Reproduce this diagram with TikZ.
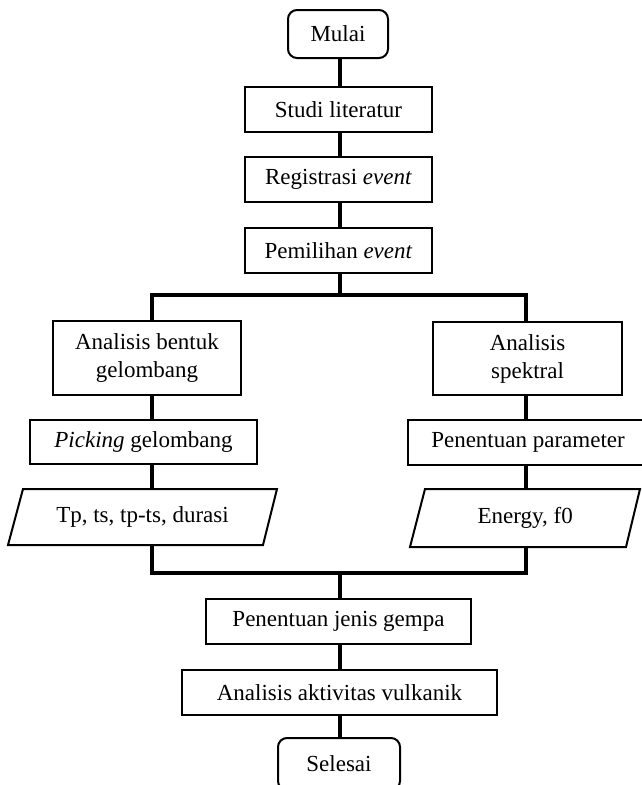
\documentclass[tikz,border=0pt]{standalone}
\usepackage{fontspec}
\setmainfont{Liberation Serif}
\usetikzlibrary{calc}
\begin{document}
\begin{tikzpicture}[x=1pt,y=-1pt,
  every node/.style={font=\fontsize{23}{28}\selectfont, inner sep=0pt, align=center},
  procbox/.style={draw, line width=2pt, minimum height=45pt},
  termbox/.style={draw, line width=2pt, rounded corners=9pt},
  iobox/.style={minimum height=56pt},
  conn/.style={line width=4.5pt}]
\useasboundingbox (0,0) rectangle (642,785);
\clip (0,0) rectangle (642,785);
% nodes
\node[termbox, minimum width=100pt, minimum height=48pt] (mulai) at (338,34) {Mulai};
\node[procbox, minimum width=187pt] (studi) at (338.5,109.5) {Studi literatur};
\node[procbox, minimum width=187pt] (regis) at (338.5,179.5) {Registrasi \textit{event}};
\node[procbox, minimum width=187pt] (pemil) at (338.5,250.5) {Pemilihan \textit{event}};
\node[procbox, minimum width=188pt, minimum height=74pt] (ab) at (147,358) {Analisis bentuk\\gelombang};
\node[procbox, minimum width=227pt, minimum height=44pt] (pick) at (143.5,442) {\textit{Picking} gelombang};
\node[iobox] (tp) at (142.5,517) {Tp, ts, tp-ts, durasi};
\node[procbox, minimum width=189pt, minimum height=73pt] (as) at (527.5,358.5) {Analisis\\spektral};
\node[procbox, minimum width=240pt] (pp) at (528,442.5) {Penentuan parameter};
\node[iobox] (en) at (525.25,518) {Energy, f0};
\node[procbox, minimum width=265pt] (pjg) at (338.5,621.5) {Penentuan jenis gempa};
\node[procbox, minimum width=315pt] (aav) at (339.5,692.5) {Analisis aktivitas vulkanik};
\node[termbox, minimum width=122pt, minimum height=52pt] (sel) at (339,764) {Selesai};
% parallelograms
\draw[line width=2pt, line join=miter] ($(tp.center)+(-119.5,-28)$) -- ($(tp.center)+(134.5,-28)$) -- ($(tp.center)+(120.5,28)$) -- ($(tp.center)+(-134.5,28)$) -- cycle;
\draw[line width=2pt, line join=miter] ($(en.center)+(-100.25,-29)$) -- ($(en.center)+(114.75,-29)$) -- ($(en.center)+(100.75,29)$) -- ($(en.center)+(-115.25,29)$) -- cycle;
% bus coordinates
\coordinate (b1l) at (152,295);
\coordinate (b1r) at (526,295);
\coordinate (b1m) at (340,295);
\coordinate (b2l) at (152,573);
\coordinate (b2r) at (526,573);
\coordinate (b2m) at (340,573);
\coordinate (tpT) at (152,489);
\coordinate (tpB) at (152,545);
\coordinate (enT) at (526,489);
\coordinate (enB) at (526,547);
% connectors
\draw[conn] (mulai.south -| b1m) -- (studi.north -| b1m);
\draw[conn] (studi.south -| b1m) -- (regis.north -| b1m);
\draw[conn] (regis.south -| b1m) -- (pemil.north -| b1m);
\draw[conn] (pemil.south -| b1m) -- (b1m);
\draw[conn, line cap=rect] (b1l) -- (b1r);
\draw[conn] (b1l) -- (b1l |- ab.north);
\draw[conn] (b1r) -- (b1r |- as.north);
\draw[conn] (ab.south -| b1l) -- (pick.north -| b1l);
\draw[conn] (pick.south -| b1l) -- (tpT);
\draw[conn] (tpB) -- (b2l);
\draw[conn] (as.south -| b1r) -- (pp.north -| b1r);
\draw[conn] (pp.south -| b1r) -- (enT);
\draw[conn] (enB) -- (b2r);
\draw[conn, line cap=rect] (b2l) -- (b2r);
\draw[conn] (b2m) -- (pjg.north -| b2m);
\draw[conn] (pjg.south -| b2m) -- (aav.north -| b2m);
\draw[conn] (aav.south -| b2m) -- (sel.north -| b2m);
\end{tikzpicture}
\end{document}
